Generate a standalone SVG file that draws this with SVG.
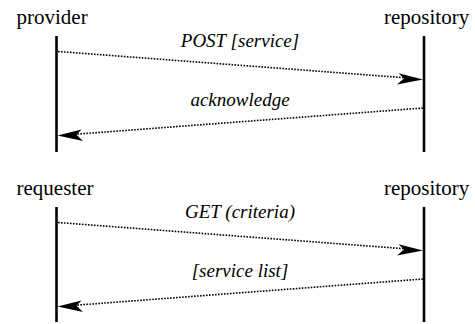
<svg xmlns="http://www.w3.org/2000/svg" width="475" height="324" viewBox="0 0 475 324">
<style>
text{font-family:'Liberation Serif','DejaVu Serif',serif;fill:#000}
.actor{font-size:21px}
.msg{font-size:19px;font-style:italic}
.life{stroke:#000;stroke-width:2.6;fill:none}
.arrow{stroke:#000;stroke-width:1.6;stroke-dasharray:1.6 1.4;fill:none}
.head{fill:#000;stroke:none}
</style>
<rect width="475" height="324" fill="#fff"/>
<g id="provider">
<text class="actor" x="16.5" y="23.5">provider</text>
<line class="life" x1="56.5" y1="36" x2="56.5" y2="152"/>
</g>
<g id="repository1">
<text class="actor" x="384" y="23.5">repository</text>
<line class="life" x1="424" y1="36" x2="424" y2="152"/>
</g>
<g id="requester">
<text class="actor" x="16.5" y="194.5">requester</text>
<line class="life" x1="56.5" y1="207" x2="56.5" y2="322"/>
</g>
<g id="repository2">
<text class="actor" x="384" y="194.5">repository</text>
<line class="life" x1="424" y1="207" x2="424" y2="322"/>
</g>
<g id="connectors">
<g id="post">
<line class="arrow" x1="58" y1="51.5" x2="408" y2="78"/>
<path class="head" d="M423,79.5 L398.5,73.2 L404,78.6 L397,84.5 Z"/>
<text class="msg" x="240" y="47" text-anchor="middle">POST [service]</text>
</g>
<g id="ack">
<line class="arrow" x1="423" y1="108" x2="72" y2="134.5"/>
<path class="head" d="M57.5,135.5 L81.5,129.5 L76.5,134.8 L83,141 Z"/>
<text class="msg" x="240" y="106" text-anchor="middle">acknowledge</text>
</g>
<g id="get">
<line class="arrow" x1="58" y1="222.5" x2="408" y2="249"/>
<path class="head" d="M423,250.5 L398.5,244.2 L404,249.6 L397,255.5 Z"/>
<text class="msg" x="240" y="218" text-anchor="middle">GET (criteria)</text>
</g>
<g id="list">
<line class="arrow" x1="423" y1="279" x2="72" y2="305.5"/>
<path class="head" d="M57.5,306.5 L81.5,300.5 L76.5,305.8 L83,312 Z"/>
<text class="msg" x="240" y="277" text-anchor="middle">[service list]</text>
</g>
</g>
</svg>
